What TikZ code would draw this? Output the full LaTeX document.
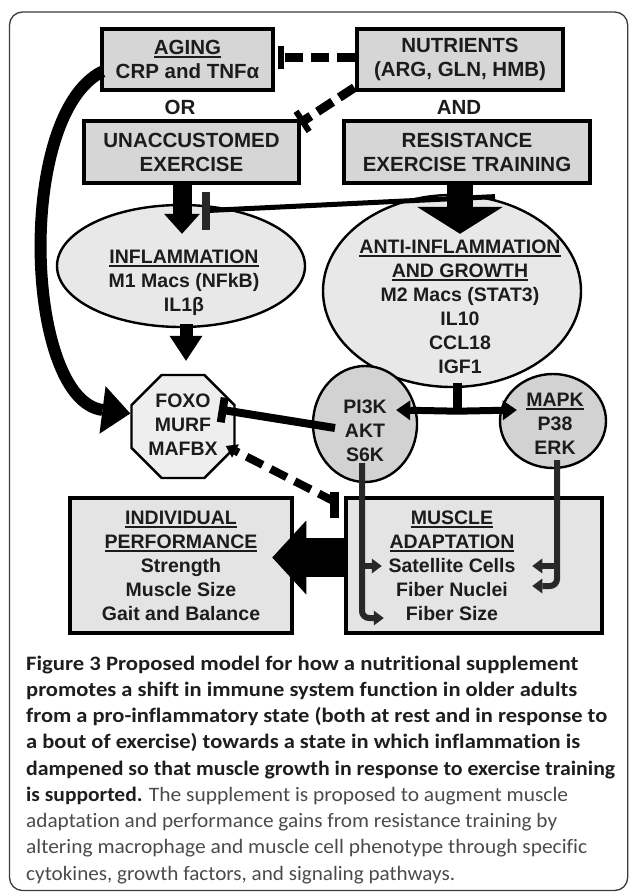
\documentclass[tikz,border=0pt]{standalone}
\usepackage{fontspec}
\usepackage{graphicx}
\setmainfont{Liberation Sans}
\newfontfamily\capfont[Ligatures=NoCommon]{Carlito}
\usetikzlibrary{arrows.meta,calc,shapes.geometric}
\definecolor{txt}{RGB}{28,28,28}
\definecolor{boxfill}{RGB}{214,214,214}
\definecolor{ellfill}{RGB}{232,232,232}
\definecolor{circfill}{RGB}{210,210,210}
\definecolor{octfill}{RGB}{238,238,238}
\definecolor{botfill}{RGB}{228,228,228}
\definecolor{linegray}{RGB}{40,40,40}
\definecolor{framecol}{RGB}{60,60,60}
\definecolor{capbold}{RGB}{30,30,30}
\definecolor{capreg}{RGB}{75,75,75}
\newcommand\myul[1]{\leavevmode\setbox0=\hbox{#1}\rlap{\rule[-3.5pt]{\wd0}{1.8pt}}\box0}
\begin{document}
\begin{tikzpicture}[x=1pt,y=-1pt,
  dtext/.style={font=\fontsize{19.5}{24}\selectfont\bfseries, text=txt, align=center, inner sep=0pt},
  toptext/.style={font=\fontsize{20.5}{24}\selectfont\bfseries, text=txt, align=center, inner sep=0pt},
  topbox/.style={draw=black, line width=3.2pt, fill=boxfill, inner sep=0pt, toptext},
  ellnode/.style={ellipse, draw=black, line width=2.4pt, fill=ellfill, inner sep=0pt},
  circnode/.style={ellipse, draw=black, line width=2.4pt, fill=circfill, inner sep=0pt},
  octnode/.style={regular polygon, regular polygon sides=8, draw=black, line width=2.4pt, fill=octfill, inner sep=0pt},
  botbox/.style={draw=black, line width=4.5pt, fill=botfill, inner sep=0pt, dtext},
  dashconn/.style={line width=9pt, dash pattern=on 18pt off 8pt},
  barline/.style={line width=6pt},
  fatarrow/.style n args={3}{line width=#1pt, -{Triangle[length=#2pt,width=#3pt,line width=0pt]}},
  medarrow/.style={line width=7pt, -{Triangle[length=14pt,width=20pt,line width=0pt]}},
  thinarrow/.style={line width=6pt, draw=linegray, -{Triangle[length=10pt,width=15pt,line width=0pt]}},
  capline/.style={anchor=base west, inner sep=0pt, font=\capfont\fontsize{20.5}{24}\selectfont}
]
\useasboundingbox (0,0) rectangle (629,893);
\fill[white] (0,0) rectangle (629,893);
\draw[framecol, line width=1.3pt, rounded corners=13pt] (9.5,12) rectangle (627.7,890.5);

% top boxes
\node[topbox, minimum width=171pt, minimum height=61pt] (aging) at (187.5,59.5) {\myul{AGING}\\CRP and TNFα};
\node[topbox, minimum width=206pt, minimum height=61pt] (nutr) at (460,59.5) {NUTRIENTS\\(ARG, GLN, HMB)};
\node[toptext] (or) at (180,107) {OR};
\node[toptext] (and) at (459,107) {AND};
\node[topbox, minimum width=215pt, minimum height=62pt] (unacc) at (191.5,152) {UNACCUSTOMED\\EXERCISE};
\node[topbox, minimum width=246pt, minimum height=62pt] (resist) at (467,152) {RESISTANCE\\EXERCISE TRAINING};

% ellipses
\node[ellnode, minimum width=248pt, minimum height=122pt] (inflam) at (181,266) {};
\node[dtext] (inflamT) at (184,283) {\myul{INFLAMMATION}\\M1 Macs (NFkB)\\IL1β};
\node[ellnode, minimum width=258pt, minimum height=192pt] (anti) at (452,291) {};
\node[dtext] (antiT) at (460,307) {\myul{ANTI-INFLAMMATION}\\\myul{AND GROWTH}\\M2 Macs (STAT3)\\IL10\\CCL18\\IGF1};
\node[circnode, minimum width=104pt, minimum height=116pt] (pik) at (365,424) {};
\node[dtext] (pikT) at (365,431) {PI3K\\AKT\\S6K};
\node[circnode, minimum width=106pt, minimum height=94pt] (mapk) at (553,421) {};
\node[dtext] (mapkT) at (555,423.5) {\myul{MAPK}\\P38\\ERK};
\node[octnode, minimum size=111.5pt] (foxo) at (183,426.5) {};
\node[dtext] (foxoT) at (183,424.5) {FOXO\\MURF\\MAFBX};

% bottom boxes
\node[botbox, minimum width=222pt, minimum height=135pt] (indiv) at (181,565.5) {\myul{INDIVIDUAL}\\\myul{PERFORMANCE}\\Strength\\Muscle Size\\Gait and Balance};
\node[botbox, minimum width=256pt, minimum height=135pt] (muscle) at (474,565.5) {};
\node[dtext] (muscleT) at (452,565.5) {\myul{MUSCLE}\\\myul{ADAPTATION}\\Satellite Cells\\Fiber Nuclei\\Fiber Size};

% nutrients -| aging
\coordinate (b1) at ($(aging.east)+(6,-2)$);
\draw[dashconn] ($(nutr.west)+(0,-2)$) -- (b1);
\draw[barline] ($(b1)+(0,-11.5)$) -- ($(b1)+(0,11.5)$);

% nutrients -| unaccustomed exercise
\coordinate (d2s) at ($(nutr.south west)+(-1,-4)$);
\coordinate (d2e) at ($(unacc.north east)+(2,2)$);
\draw[dashconn] (d2s) -- (d2e);
\draw[barline] ($(d2e)!12pt!90:(d2s)$) -- ($(d2e)!12pt!-90:(d2s)$);

% resistance -| inflammation
\coordinate (b5) at ($(unacc.south)+(14.5,26)$);
\draw[line width=5pt] ($(resist.south)+(28,12)$) -- (b5);
\draw[line width=8pt, draw=linegray] ($(b5)+(0,-19)$) -- ($(b5)+(0,19)$);

% unaccustomed -> inflammation
\coordinate (a3e) at ($(inflam.north)+(1,30)$);
\draw[fatarrow={19}{20}{36}] (a3e |- unacc.south) -- (a3e);

% resistance -> anti-inflammation
\coordinate (a4e) at ($(anti.north)+(8,40)$);
\draw[fatarrow={26}{27}{86}] (a4e |- resist.south) -- (a4e);

% inflammation -> foxo
\coordinate (a6s) at ($(inflam.south)+(5,-4)$);
\coordinate (a6e) at ($(foxo.north)+(3,-13)$);
\draw[fatarrow={13}{25}{33}] (a6s) -- (a6e);

% aging -> foxo (curved)
\draw[line width=12pt, -{Triangle[length=28pt,width=48pt,line width=0pt]}] ($(aging.west)+(2,12)$) .. controls (15,115) and (25,400) .. ($(foxo.west)+(0,-13)$);

% IGF1 -> PI3K, MAPK
\coordinate (jn) at ($(anti.south)+(5,23)$);
\draw[line width=9pt] ($(anti.south)+(5,-5)$) -- ($(jn)+(0,3)$);
\draw[medarrow] (jn) -- ($(pik.east)+(-22,-14)$);
\draw[medarrow] (jn) -- ($(mapk.west)+(18,-11)$);

% PI3K -| FOXO
\coordinate (p9s) at ($(pik.center)+(-30,4)$);
\coordinate (p9e) at ($(foxo.east)+(-13,-16.5)$);
\draw[line width=8pt] (p9s) -- (p9e);
\draw[line width=8pt] ($(p9e)!12.5pt!90:(p9s)$) -- ($(p9e)!12.5pt!-90:(p9s)$);

% MAFBX <- dashed -| muscle adaptation
\coordinate (m10) at ($(muscle.north west)+(-9,6)$);
\coordinate (x10) at ($(foxo.east)+(-10,19.5)$);
\draw[line width=8pt, dash pattern=on 18pt off 9pt, -{Triangle[length=11pt,width=15pt,line width=0pt]}] (m10) -- (x10);
\draw[line width=9pt] ($(m10)+(0,-10)$) -- ($(m10)+(0,16)$);

% S6K -> muscle adaptation
\coordinate (s6t) at ($(pik.south)+(-3,-20)$);
\coordinate (sc) at ($(muscle.west)+(38,0.5)$);
\coordinate (fs) at ($(muscle.west)+(40,52.5)$);
\draw[thinarrow, rounded corners=7pt] (s6t) |- (fs);
\draw[thinarrow] (s6t |- sc) -- (sc);

% ERK -> muscle adaptation
\coordinate (et) at ($(mapk.south)+(4,-9)$);
\coordinate (sc2) at ($(muscle.east)+(-72,0.5)$);
\coordinate (fn2) at ($(muscle.east)+(-72,20.5)$);
\draw[thinarrow, rounded corners=7pt] (et) |- (fn2);
\draw[thinarrow] (et |- sc2) -- (sc2);

% muscle adaptation -> individual performance
\draw[fatarrow={39}{34}{74}] ($(muscle.west)+(0,-8)$) -- ($(indiv.east)+(-22,-8)$);

% caption
\node[capline] (c1) at (26,670) {\resizebox{552pt}{\height}{\bfseries\color{capbold}Figure 3 Proposed model for how a nutritional supplement}};
\node[capline] (c2) at (26,696.25) {\resizebox{551pt}{\height}{\bfseries\color{capbold}promotes a shift in immune system function in older adults}};
\node[capline] (c3) at (26,722.5) {\resizebox{581pt}{\height}{\bfseries\color{capbold}from a pro-inflammatory state (both at rest and in response to}};
\node[capline] (c4) at (26,748.75) {\resizebox{554pt}{\height}{\bfseries\color{capbold}a bout of exercise) towards a state in which inflammation is}};
\node[capline] (c5) at (26,775) {\resizebox{589pt}{\height}{\bfseries\color{capbold}dampened so that muscle growth in response to exercise training}};
\node[capline] (c6) at (26,801.25) {\resizebox{542pt}{\height}{{\bfseries\color{capbold}is supported.} {\color{capreg}The supplement is proposed to augment muscle}}};
\node[capline] (c7) at (26,827.5) {\resizebox{531pt}{\height}{\color{capreg}adaptation and performance gains from resistance training by}};
\node[capline] (c8) at (26,853.75) {\resizebox{561pt}{\height}{\color{capreg}altering macrophage and muscle cell phenotype through specific}};
\node[capline] (c9) at (26,880) {\resizebox{429pt}{\height}{\color{capreg}cytokines, growth factors, and signaling pathways.}};
\end{tikzpicture}
\end{document}
